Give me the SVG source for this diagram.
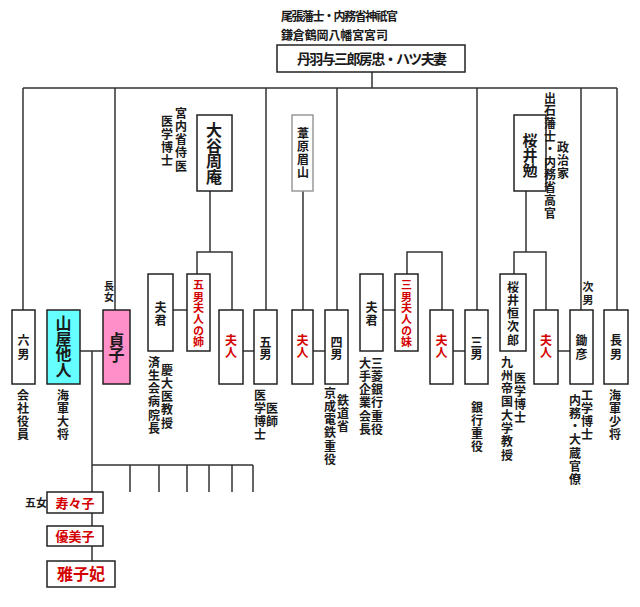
<svg xmlns="http://www.w3.org/2000/svg" width="640" height="607" viewBox="0 0 640 607">
<style>
text{font-family:"Noto Sans CJK JP","Noto Sans CJK SC",sans-serif;font-weight:bold;fill:#1a1a1a}
.v{writing-mode:vertical-rl}
.a{font-size:12px;letter-spacing:1.3px;font-weight:600}
.r{fill:#d40000}
.b{fill:#fff;stroke:#222;stroke-width:1.5}
.c path{fill:none;stroke:#333;stroke-width:1.5}
</style>
<rect width="640" height="607" fill="#fff"/>
<g id="top-notes">
<text x="281" y="21" font-size="12" textLength="117">尾張藩士・内務省神祇官</text>
<text x="281" y="40" font-size="12" textLength="107">鎌倉鶴岡八幡宮宮司</text>
</g>
<g class="c" id="connectors">
<path d="M372,72V88M23,88H617M23,88V310M115,88V310M266,88V310M337,88V310M477,88V310M581,88V310M617,88V310"/>
<path d="M210,191V252M197,274V252H232V310M303,191V310M173,310H187M243,351H254M313,351H325"/>
<path d="M407,274V252H442V310M383,310H395M453,351H465"/>
<path d="M526,191V252M514,274V252H546V310M558,351H570"/>
<path d="M80,351H103M92,351V492M92,513V526M92,546V561M92,465H253M130,465V492M159,465V492M187,465V492M209,465V492M232,465V492M253,465V492"/>
</g>
<g id="parents"><rect class="b" x="277" y="45" width="188" height="27"/><text x="297" y="64" font-size="14" textLength="150">丹羽与三郎房忠・ハツ夫妻</text></g>
<g id="otani"><rect class="b" x="197" y="115" width="35" height="76"/><text class="v" x="214" y="122" font-size="16" letter-spacing="-0.3">大谷周庵</text>
<text class="v a" x="181" y="107">宮内省侍医</text><text class="v a" x="167" y="115">医学博士</text></g>
<g id="ashihara"><rect x="292" y="115" width="21" height="76" fill="#fff" stroke="#999" stroke-width="1.5"/><text class="v" x="303" y="127" font-size="12" letter-spacing="1.3">葦原眉山</text></g>
<g id="sakurai-tsutomu"><rect class="b" x="514" y="115" width="32" height="76"/><text class="v" x="530" y="132.5" font-size="15">桜井勉</text>
<text class="v a" x="550" y="92" style="letter-spacing:0.8px">出石藩士・内務省高官</text><text class="v a" x="563" y="141">政治家</text></g>
<g id="fukun1"><rect class="b" x="148" y="274" width="25" height="77"/><text class="v" x="160.5" y="301" font-size="12" letter-spacing="1">夫君</text>
<text class="v a" x="167" y="364">慶大医教授</text><text class="v a" x="154" y="356">済生会病院長</text></g>
<g id="ane"><rect class="b" x="187" y="274" width="23" height="77"/><text class="v r" x="198.5" y="279.5" font-size="11" letter-spacing="0.4">五男夫人の姉</text></g>
<g id="fukun2"><rect class="b" x="360" y="274" width="23" height="77"/><text class="v" x="371.5" y="301" font-size="12" letter-spacing="1">夫君</text>
<text class="v a" x="377" y="357">三菱銀行重役</text><text class="v a" x="365" y="357">大手企業会長</text></g>
<g id="imouto"><rect class="b" x="395" y="274" width="23" height="77"/><text class="v r" x="406.5" y="279.5" font-size="11" letter-spacing="0.4">三男夫人の妹</text></g>
<g id="sakurai-tsunejiro"><rect class="b" x="500" y="274" width="26" height="77"/><text class="v" x="513" y="281" font-size="12" letter-spacing="1.3">桜井恒次郎</text>
<text class="v a" x="507" y="356">九州帝国大学教授</text><text class="v a" x="520" y="372">医学博士</text></g>
<g id="rokunan"><rect class="b" x="12" y="310" width="23" height="74"/><text class="v" x="23.5" y="334" font-size="12" letter-spacing="2">六男</text>
<text class="v a" x="23" y="389">会社役員</text></g>
<g id="yamaya"><rect x="47" y="310" width="33" height="74" fill="#66ffff" stroke="#222" stroke-width="1.5"/><text class="v" x="63.5" y="315" font-size="16" letter-spacing="-0.3">山屋他人</text>
<text class="v a" x="63" y="389">海軍大将</text></g>
<g id="sadako"><rect x="103" y="310" width="27" height="74" fill="#ff8fc8" stroke="#222" stroke-width="1.5"/><text class="v" x="116.5" y="332" font-size="16" letter-spacing="-1">貞子</text>
<text class="v" x="109" y="281" font-size="10" letter-spacing="1">長女</text></g>
<g id="fujin-gonan"><rect class="b" x="219" y="310" width="24" height="74"/><text class="v r" x="231" y="334" font-size="12">夫人</text></g>
<g id="gonan"><rect class="b" x="254" y="310" width="23" height="74"/><text class="v" x="265.5" y="336" font-size="12">五男</text>
<text class="v a" x="260" y="389">医学博士</text><text class="v a" x="272" y="402">医師</text></g>
<g id="fujin-yonnan"><rect class="b" x="292" y="310" width="21" height="74"/><text class="v r" x="302.5" y="334" font-size="12">夫人</text></g>
<g id="yonnan"><rect class="b" x="325" y="310" width="23" height="74"/><text class="v" x="336.5" y="336" font-size="12">四男</text>
<text class="v a" x="330" y="387">京成電鉄重役</text><text class="v a" x="343" y="394">鉄道省</text></g>
<g id="fujin-sannan"><rect class="b" x="430" y="310" width="23" height="74"/><text class="v r" x="441.5" y="334" font-size="12">夫人</text></g>
<g id="sannan"><rect class="b" x="465" y="310" width="23" height="74"/><text class="v" x="476.5" y="336" font-size="12">三男</text>
<text class="v a" x="477" y="401">銀行重役</text></g>
<g id="fujin-jinan"><rect class="b" x="534" y="310" width="24" height="74"/><text class="v r" x="546" y="334" font-size="12">夫人</text></g>
<g id="sukihiko"><rect class="b" x="570" y="310" width="23" height="74"/><text class="v" x="581.5" y="334" font-size="12" letter-spacing="2">鋤彦</text>
<text class="v" x="588" y="281.5" font-size="11" letter-spacing="2">次男</text>
<text class="v a" x="587" y="389">工学博士</text><text class="v a" x="575" y="394">内務・大蔵官僚</text></g>
<g id="chonan"><rect class="b" x="604" y="310" width="24" height="74"/><text class="v" x="616" y="334" font-size="12" letter-spacing="2">長男</text>
<text class="v a" x="615" y="389">海軍少将</text></g>
<g id="suzuko"><rect class="b" x="47" y="492" width="56" height="21"/><text class="r" x="75" y="507.5" font-size="13" text-anchor="middle">寿々子</text>
<text x="25" y="507" font-size="11">五女</text></g>
<g id="yumiko"><rect class="b" x="47" y="526" width="56" height="20"/><text class="r" x="75" y="541" font-size="13" text-anchor="middle">優美子</text></g>
<g id="masako"><rect class="b" x="47" y="561" width="68" height="26"/><text class="r" x="81" y="580" font-size="16" text-anchor="middle">雅子妃</text></g>
</svg>
